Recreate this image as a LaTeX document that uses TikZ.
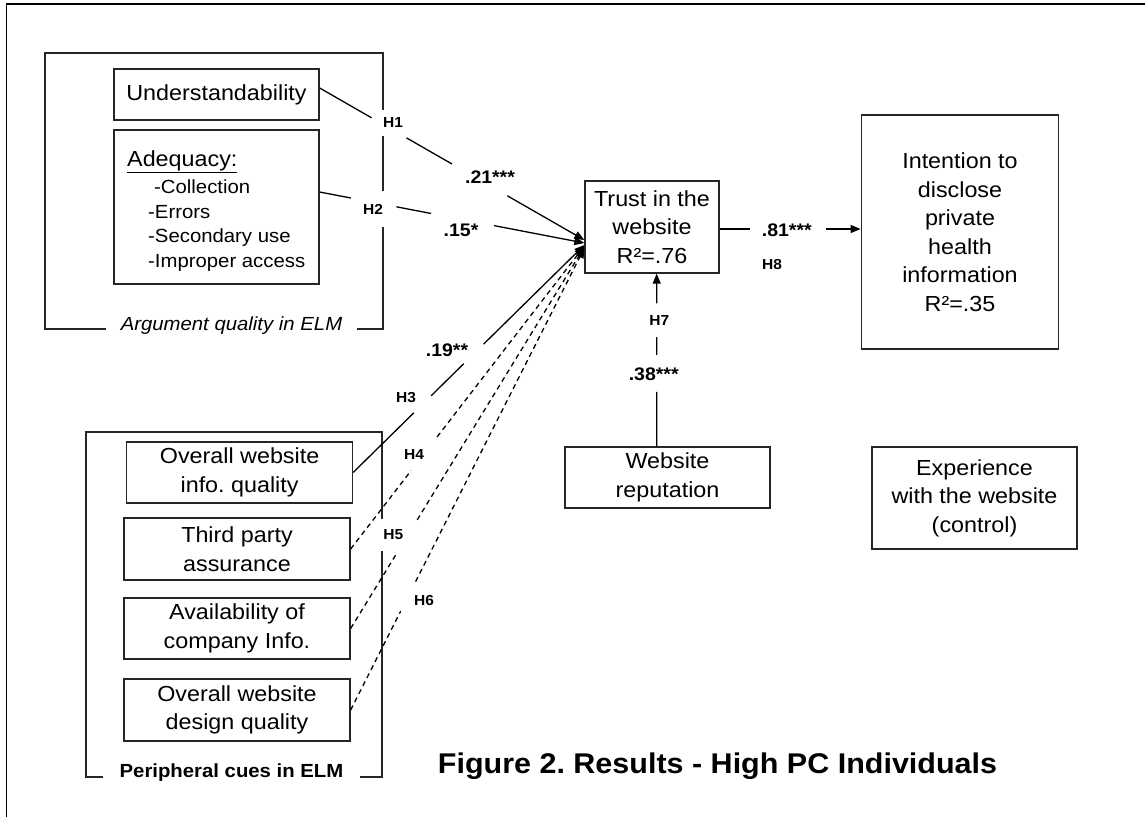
\documentclass[tikz,border=0pt]{standalone}
\usepackage{fontspec}
\setmainfont{Liberation Sans}[FakeStretch=1.07]
\usetikzlibrary{arrows.meta,calc}
\frenchspacing
\newcommand\fmain{\fontsize{21.8pt}{28.5pt}\selectfont}
\newcommand\fitem{\fontsize{19pt}{24.7pt}\selectfont}
\newcommand\flab{\fontsize{14.5pt}{17pt}\selectfont\bfseries}
\newcommand\fnum{\fontsize{18.2pt}{22pt}\selectfont\bfseries}
\newcommand\fgrp{\fontsize{19pt}{23pt}\selectfont}
\newcommand\fttl{\fontsize{28.5pt}{34pt}\selectfont\bfseries}
\begin{document}
\begin{tikzpicture}[x=1pt,y=-1pt,
  box/.style={draw=black!85, line width=1.3pt, inner sep=0pt, align=center, font=\fmain},
  grp/.style={draw=black!85, line width=1.3pt, inner sep=0pt},
  grplab/.style={fill=white, font=\fgrp, inner ysep=2pt},
  conn/.style={line width=1.3pt, draw=black},
  arr/.style={-{Triangle[length=10pt,width=8pt]}},
  dsh/.style={dash pattern=on 5pt off 4pt},
  hl/.style={font=\flab, inner sep=0pt},
  nl/.style={font=\fnum, inner sep=0pt},
  item/.style={anchor=base west, font=\fitem, inner sep=0pt}]
\useasboundingbox (0,0) rectangle (1145,817);
% outer frame (top and left only)
\draw[line width=1.6pt] (6.5,817) -- (6.5,4) -- (1145,4);

% group boxes
\node[grp, minimum width=338pt, minimum height=276pt] (arg) at (214,191) {};
\node[grp, minimum width=296pt, minimum height=345pt] (per) at (234,604.5) {};
\node[grplab, inner xsep=15pt] (argl) at (231.5,325.5) {\itshape Argument quality in ELM};
\node[grplab, inner xsep=17pt] (perl) at (231.5,772.5) {\bfseries Peripheral cues in ELM};

% argument quality
\node[box, minimum width=205pt, minimum height=51pt] (und) at (216.5,94.5) {Understandability};
\node[box, minimum width=205pt, minimum height=154pt] (ade) at (216.5,207) {};
\node[anchor=base west, font=\fmain, inner sep=0pt] (adet) at (127,166.7) {\underline{Adequacy:}};
\node[item] (i1) at (154,193.3) {-Collection};
\node[item] (i2) at (148,218.3) {-Errors};
\node[item] (i3) at (148,242.7) {-Secondary use};
\node[item] (i4) at (148,267.7) {-Improper access};

% peripheral cues
\node[box, minimum width=226pt, minimum height=61pt] (info) at (239.6,472.4) {Overall website\\info. quality};
\node[box, minimum width=226pt, minimum height=62pt] (third) at (237,549) {Third party\\assurance};
\node[box, minimum width=226pt, minimum height=61pt] (avail) at (237,628.5) {Availability of\\company Info.};
\node[box, minimum width=226pt, minimum height=62pt] (design) at (237,710) {Overall website\\design quality};

% central
\node[box, minimum width=134pt, minimum height=92pt] (trust) at (652,227) {Trust in the\\website\\R²=.76};
\node[box, minimum width=197.5pt, minimum height=234pt] (intent) at (960,232) {Intention to\\disclose\\private\\health\\information\\R²=.35};
\node[box, minimum width=205pt, minimum height=61pt] (rep) at (667.5,477.5) {Website\\reputation};
\node[box, minimum width=205pt, minimum height=102pt] (exp) at (974.5,498) {Experience\\with the website\\(control)};

\node[font=\fttl, anchor=base, inner sep=0pt] (title) at (717.5,773.3) {Figure 2. Results - High PC Individuals};

% connector end points
\coordinate (s1) at ($(und.east)+(0,-6.5)$);
\coordinate (e1) at ($(trust.west)+(0,13)$);
\coordinate (s2) at ($(ade.east)+(0,-15)$);
\coordinate (e2) at ($(trust.west)+(0,16)$);
\coordinate (s3) at (info.east);
\coordinate (e3) at ($(trust.west)+(0,18)$);
\coordinate (s4) at (third.east);
\coordinate (e4) at ($(trust.west)+(0,19)$);
\coordinate (s5) at (avail.east);
\coordinate (e5) at ($(trust.west)+(0,20)$);
\coordinate (s6) at (design.east);
\coordinate (e6) at ($(trust.west)+(0,21)$);
\coordinate (s8) at ($(trust.east)+(0,2)$);
\coordinate (e8) at (intent.west |- s8);
\coordinate (s7) at ($(rep.north)+(-10.8,0)$);
\coordinate (e7) at (s7 |- trust.south);

% connectors
\draw[conn,arr] (s1) -- ($(s1)!0.196!(e1)$) ($(s1)!0.328!(e1)$) -- ($(s1)!0.5!(e1)$) ($(s1)!0.709!(e1)$) -- (e1);
\draw[conn,arr] (s2) -- ($(s2)!0.118!(e2)$) ($(s2)!0.29!(e2)$) -- ($(s2)!0.421!(e2)$) ($(s2)!0.659!(e2)$) -- (e2);
\draw[conn,arr] (s3) -- ($(s3)!0.262!(e3)$) ($(s3)!0.337!(e3)$) -- ($(s3)!0.478!(e3)$) ($(s3)!0.564!(e3)$) -- (e3);
\draw[conn,dsh,arr] (s4) -- ($(s4)!0.259!(e4)$) ($(s4)!0.37!(e4)$) -- (e4);
\draw[conn,dsh,arr] (s5) -- ($(s5)!0.192!(e5)$) ($(s5)!0.285!(e5)$) -- (e5);
\draw[conn,dsh,arr] (s6) -- ($(s6)!0.214!(e6)$) ($(s6)!0.278!(e6)$) -- (e6);
\draw[conn,arr] (s8) -- ($(s8)!0.215!(e8)$) ($(s8)!0.751!(e8)$) -- (e8);
\draw[conn,arr] (s7) -- ($(s7)!0.316!(e7)$) ($(s7)!0.529!(e7)$) -- ($(s7)!0.632!(e7)$) ($(s7)!0.828!(e7)$) -- (e7);

% labels
\node[hl, fill=white, inner xsep=3pt, inner ysep=8pt] (h1) at (393,123) {H1};
\node[nl] (c1) at (490,177) {.21***};
\node[hl, fill=white, inner xsep=4pt, inner ysep=13pt] (h2) at (373,209) {H2};
\node[nl] (c2) at (461,230) {.15*};
\node[nl] (c3) at (447,350) {.19**};
\node[hl] (h3) at (406,398) {H3};
\node[hl] (h4) at (414,455) {H4};
\node[hl, fill=white, inner xsep=3pt, inner ysep=11pt] (h5) at (393.4,535) {H5};
\node[hl] (h6) at (424,600.7) {H6};
\node[nl] (c8) at (786.8,230) {.81***};
\node[hl] (h8) at (772,265) {H8};
\node[hl] (h7) at (659.4,320.7) {H7};
\node[nl] (c7) at (653.7,374) {.38***};
\end{tikzpicture}
\end{document}
